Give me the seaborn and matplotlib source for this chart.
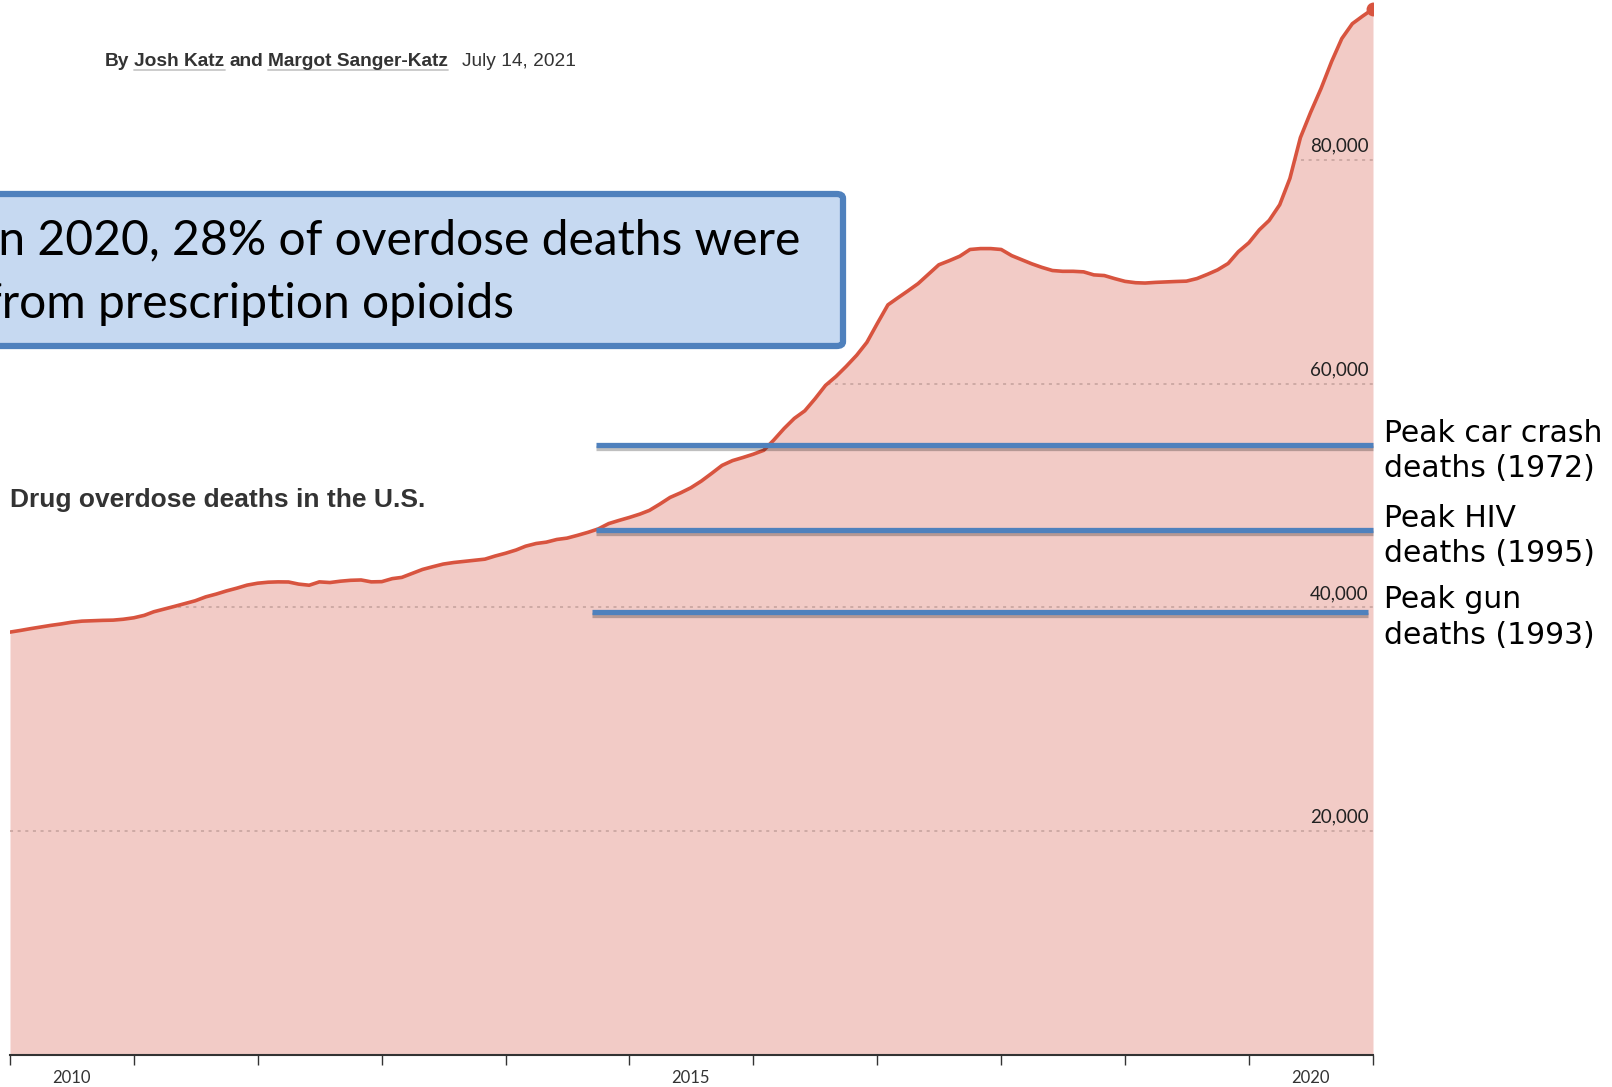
import matplotlib
matplotlib.use("Agg")
import matplotlib.pyplot as plt
import matplotlib.dates as mdates
import matplotlib.patheffects as pe
from matplotlib.patches import FancyBboxPatch
from matplotlib.lines import Line2D
from matplotlib.ticker import NullFormatter, FixedLocator, FixedFormatter
import pandas as pd
import seaborn as sns

# monthly drug overdose deaths (12-month count), Jan 2010 .. Jan 2021
months = pd.date_range("2010-01-01", "2021-01-01", freq="MS")
deaths = [
    37800, 37950, 38100, 38250, 38400, 38530, 38680, 38780, 38820, 38850, 38870, 38950,
    39080, 39300, 39620, 39860, 40100, 40350, 40600, 40950, 41200, 41480, 41730, 42000,
    42170, 42260, 42290, 42280, 42090, 41990, 42290, 42230, 42350, 42430, 42460, 42290,
    42310, 42580, 42690, 43050, 43400, 43650, 43880, 44020, 44120, 44220, 44320, 44600,
    44850, 45140, 45480, 45720, 45840, 46080, 46200, 46450, 46720, 47020, 47500, 47780,
    48050, 48350, 48680, 49250, 49840, 50250, 50700, 51300, 52000, 52700, 53130, 53400,
    53700, 54050, 54950, 56000, 56900, 57580, 58650, 59850, 60650, 61550, 62550, 63700,
    65400, 67050, 67650, 68300, 68950, 69800, 70630, 71000, 71400, 72000, 72080, 72080,
    72000, 71450, 71100, 70720, 70400, 70120, 70050, 70050, 70000, 69730, 69670, 69400,
    69150, 69030, 69000, 69060, 69100, 69140, 69170, 69400, 69780, 70180, 70750, 71800,
    72600, 73760, 74600, 76000, 78350, 82000, 84250, 86400, 88800, 90850, 92180, 92850,
    93500,
]

y_ticks = [20000, 40000, 60000, 80000]
x_label_years = [2010, 2015, 2020]

# comparison lines drawn over the chart
bench_labels = ["Peak car crash\ndeaths (1972)", "Peak HIV\ndeaths (1995)", "Peak gun\ndeaths (1993)"]
bench_values = [54500, 46900, 39600]
bench_start = ["2014-09-25", "2014-09-25", "2014-09-13"]
bench_end = ["2021-01-01", "2021-01-01", "2020-12-17"]

LINE = "#d8543f"
FILL = "#f2cbc6"
BLUE = "#4f81bd"
W, H = 1612, 1087

sns.set_style("white")
plt.rcParams["font.family"] = ["Lato", "DejaVu Sans"]

fig = plt.figure(figsize=(W / 100, H / 100), dpi=100)
ax = fig.add_axes([10 / W, 32 / H, 1363 / W, 1055 / H])
ax.set_facecolor("none")

poly = ax.fill_between(months, deaths, color=FILL, lw=0, zorder=1)
sns.lineplot(x=months, y=deaths, ax=ax, color=LINE, linewidth=2.6, zorder=4)
ax.plot(months[-1:], deaths[-1:], "o", color=LINE, ms=9, zorder=5)

ax.set_xlim(months[0], months[-1])
ax.set_ylim(0, 94300)
ax.set_xlabel("")
ax.set_ylabel("")

# dotted gridlines only inside the filled area
for v in y_ticks:
    gl = ax.axhline(v, color="#c4a19c", lw=1.1, ls=(0, (2, 3)), zorder=2)
    gl.set_clip_path(poly.get_paths()[0], ax.transData)
    ax.annotate(f"{v:,}", xy=(1, v), xycoords=("axes fraction", "data"),
                xytext=(-3, 4), textcoords="offset points", ha="right",
                va="bottom", fontsize=13.5, color="#222222", zorder=6)

for s in ["left", "right", "top"]:
    ax.spines[s].set_visible(False)
ax.spines["bottom"].set_color("#333333")
ax.spines["bottom"].set_linewidth(1.5)
ax.set_yticks([])

ax.xaxis.set_major_locator(mdates.YearLocator())
ax.xaxis.set_major_formatter(NullFormatter())
mids = [mdates.date2num(pd.Timestamp(f"{y}-07-01")) for y in x_label_years]
ax.xaxis.set_minor_locator(FixedLocator(mids))
ax.xaxis.set_minor_formatter(FixedFormatter([str(y) for y in x_label_years]))
ax.tick_params(axis="x", which="major", length=7.5, width=1, color="#333333",
               direction="out", bottom=True)
ax.tick_params(axis="x", which="minor", length=0, pad=11, labelsize=12,
               labelcolor="#333333", bottom=True)

shadow = [pe.SimpleLineShadow(offset=(0, -2), alpha=0.25), pe.Normal()]
for v, a, b, lab in zip(bench_values, bench_start, bench_end, bench_labels):
    ax.hlines(v, pd.Timestamp(a), pd.Timestamp(b), color=BLUE, lw=3.8,
              zorder=7, clip_on=False, path_effects=shadow)
    ax.annotate(lab, xy=(1, v), xycoords=("axes fraction", "data"),
                xytext=(8, -4), textcoords="offset points", ha="left",
                va="center", fontsize=21.5, color="black", linespacing=1.28,
                family=["DejaVu Sans"], annotation_clip=False)

ax.text(0, (1055 - 500) / 1055, "Drug overdose deaths in the U.S.",
        transform=ax.transAxes, fontsize=19, fontweight="bold", color="#333333",
        family=["Liberation Sans", "DejaVu Sans"], va="center", ha="left")

renderer = fig.canvas.get_renderer()

# byline with underlined author names
x = 105
base = H - 66
for txt, bold, under in [("By", True, False), ("Josh Katz", True, True), ("and", True, False),
                         ("Margot Sanger-Katz", True, True), ("July 14, 2021", False, False)]:
    if txt.startswith("July"):
        x += 9
    t = fig.text(x / W, base / H, txt, fontsize=13.8,
                 fontweight="bold" if bold else "normal", color="#333333",
                 family=["Liberation Sans", "DejaVu Sans"], va="baseline", ha="left")
    bb = t.get_window_extent(renderer)
    if under:
        fig.add_artist(Line2D([bb.x0 / W, bb.x1 / W], [(base - 3.5) / H] * 2,
                              transform=fig.transFigure, color="#c8c8c8", lw=1.3))
    x = bb.x1 + 5

# callout box clipped at the left edge
box = FancyBboxPatch((-30 / W, 1 - 346 / H), (843 + 30) / W, 152 / H,
                     boxstyle="round,pad=0,rounding_size=0.004",
                     transform=fig.transFigure, facecolor="#c6d9f1",
                     edgecolor=BLUE, lw=4.5, zorder=10)
fig.add_artist(box)
line1 = "In 2020, 28% of overdose deaths were"
box_fs = 34.6
tmp = fig.text(0, 0, line1, fontsize=box_fs)
w_full = tmp.get_window_extent(renderer).width
tmp.set_text(line1[1:])
w_rest = tmp.get_window_extent(renderer).width
tmp.remove()
fig.text(-(w_full - w_rest + 2) / W, 1 - 272 / H, line1 + "\nfrom prescription opioids",
         fontsize=box_fs, color="black", va="center", ha="left", linespacing=1.55,
         zorder=11)

fig.savefig("out.png", dpi=100)
